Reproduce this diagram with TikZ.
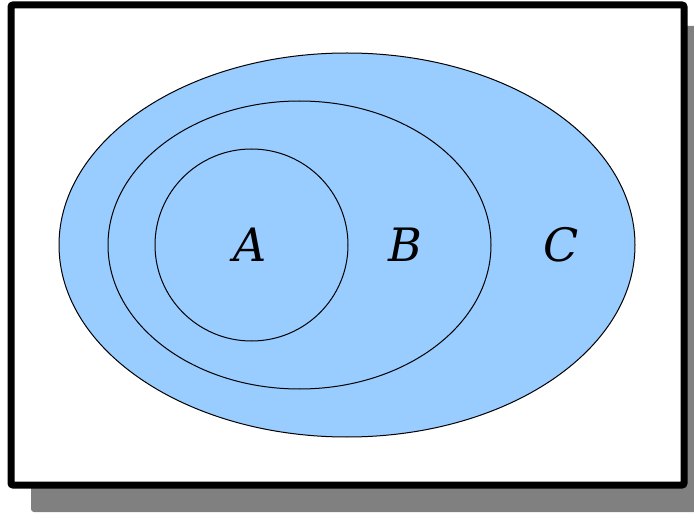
\documentclass[tikz,border=0pt]{standalone}
\usepackage{fontspec}
\setmainfont{DejaVu Serif}
\usetikzlibrary{shapes.geometric}
\definecolor{cset}{HTML}{99CCFF}
\definecolor{cshadow}{HTML}{808080}
\tikzset{
  set/.style={ellipse, draw=black, fill=cset, line width=1pt, inner sep=0pt},
  setname/.style={font=\itshape\fontsize{46}{46}\selectfont, inner sep=0pt},
}
\begin{document}
\begin{tikzpicture}[x=1pt, y=-1pt]
  \useasboundingbox (0,0) rectangle (694,513);
  \clip (0,0) rectangle (694,513);
  % frame with its shadow
  \fill[cshadow, rounded corners=3pt] (31,26) rectangle (713,512);
  \draw[fill=white, line width=7pt, rounded corners=2pt] (11,5) rectangle (684,485);
  % nested sets
  \node[set, minimum width=576pt, minimum height=384pt] (C) at (347,245) {};
  \node[set, minimum width=383pt, minimum height=288pt] (B) at (299.5,245) {};
  \node[set, minimum width=193pt, minimum height=192pt] (A) at (251.5,245) {};
  \node[setname] (labA) at (250,245) {A};
  \node[setname] (labB) at (405,245) {B};
  \node[setname] (labC) at (561,245) {C};
\end{tikzpicture}
\end{document}
